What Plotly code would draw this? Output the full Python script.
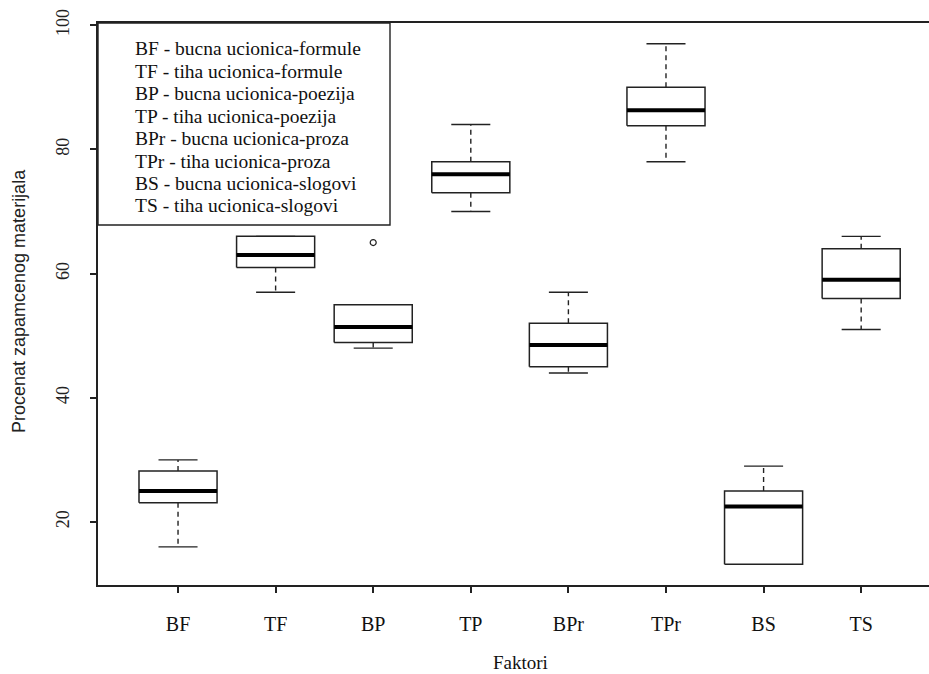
import plotly.graph_objects as go

categories = ["BF", "TF", "BP", "TP", "BPr", "TPr", "BS", "TS"]
lower_whisker = [16, 57, 48, 70, 44, 78, 13.2, 51]
q1 = [23.1, 61, 48.9, 73, 45, 83.8, 13.2, 56]
median = [25, 63, 51.4, 76, 48.5, 86.3, 22.5, 59]
q3 = [28.2, 66, 55, 78, 52, 90, 25, 64]
upper_whisker = [30, 66, 55, 84, 57, 97, 29, 66]
outlier_cat = ["BP"]
outlier_val = [65]

legend_lines = [
    "BF - bucna ucionica-formule",
    "TF - tiha ucionica-formule",
    "BP - bucna ucionica-poezija",
    "TP - tiha ucionica-poezija",
    "BPr - bucna ucionica-proza",
    "TPr - tiha ucionica-proza",
    "BS - bucna ucionica-slogovi",
    "TS - tiha ucionica-slogovi",
]
y_ticks = [20, 40, 60, 80, 100]

SERIF = "Liberation Serif, Times New Roman, serif"
SANS = "Liberation Sans, Arial, sans-serif"
LC = "#222222"
HALF = 0.4
CAP = 0.2

pos = {c: i + 1 for i, c in enumerate(categories)}

bx, by, mx, my, wx, wy, cx, cy = [], [], [], [], [], [], [], []
for i, c in enumerate(categories):
    p = pos[c]
    bx += [p - HALF, p + HALF, p + HALF, p - HALF, p - HALF, None]
    by += [q1[i], q1[i], q3[i], q3[i], q1[i], None]
    mx += [p - HALF, p + HALF, None]
    my += [median[i], median[i], None]
    wx += [p, p, None, p, p, None]
    wy += [q3[i], upper_whisker[i], None, q1[i], lower_whisker[i], None]
    cx += [p - CAP, p + CAP, None, p - CAP, p + CAP, None]
    cy += [upper_whisker[i], upper_whisker[i], None, lower_whisker[i], lower_whisker[i], None]

fig = go.Figure()
fig.add_trace(go.Scatter(x=wx, y=wy, mode="lines", line=dict(color=LC, width=1.4, dash="5px,4px"),
                         hoverinfo="skip", showlegend=False))
fig.add_trace(go.Scatter(x=cx, y=cy, mode="lines", line=dict(color=LC, width=1.4),
                         hoverinfo="skip", showlegend=False))
fig.add_trace(go.Scatter(x=bx, y=by, mode="lines", line=dict(color=LC, width=1.5),
                         fill="toself", fillcolor="white", hoverinfo="skip", showlegend=False))
fig.add_trace(go.Scatter(x=mx, y=my, mode="lines", line=dict(color="black", width=4),
                         hoverinfo="skip", showlegend=False))
fig.add_trace(go.Scatter(x=[pos[c] for c in outlier_cat], y=outlier_val, mode="markers",
                         marker=dict(symbol="circle-open", size=6, color=LC, line=dict(width=1.2)),
                         hoverinfo="skip", showlegend=False))

W, H = 929, 674
ML, MR, MT, MB = 98, 0, 23, 89
pw, ph = W - ML - MR, H - MT - MB

def px_x(x):
    return (x - ML) / pw

def px_y(y):
    return (H - MB - y) / ph

# legend box
fig.add_shape(type="rect", xref="paper", yref="paper",
              x0=px_x(98), x1=px_x(390), y0=px_y(225), y1=px_y(23),
              line=dict(color=LC, width=1.4), fillcolor="white", layer="above")
for k, t in enumerate(legend_lines):
    fig.add_annotation(xref="paper", yref="paper", x=px_x(133), y=px_y(49 + 22.4 * k),
                       text=t, showarrow=False, xanchor="left", yanchor="middle",
                       font=dict(family=SERIF, size=19.5, color="#111"))

fig.add_annotation(xref="paper", yref="paper", x=px_x(520), y=px_y(663), text="Faktori",
                   showarrow=False, xanchor="center", yanchor="middle",
                   font=dict(family=SERIF, size=19, color="#111"))
fig.add_annotation(xref="paper", yref="paper", x=px_x(19), y=px_y(301),
                   text="Procenat zapamcenog materijala", textangle=-90,
                   showarrow=False, xanchor="center", yanchor="middle",
                   font=dict(family=SANS, size=18, color="#222"))

fig.update_layout(
    width=W, height=H,
    margin=dict(l=ML, r=MR, t=MT, b=MB, pad=0),
    paper_bgcolor="white", plot_bgcolor="white",
    showlegend=False,
    xaxis=dict(range=[0.18, 8.695], tickvals=[pos[c] for c in categories], ticktext=categories,
               showgrid=False, zeroline=False, showline=True, mirror=True, linecolor=LC, linewidth=1.5,
               ticks="outside", ticklen=6, tickwidth=1.6, tickcolor=LC, ticklabelstandoff=14,
               tickfont=dict(family=SERIF, size=20, color="#111")),
    yaxis=dict(range=[9.86, 100.35], tickvals=y_ticks, showgrid=False, zeroline=False,
               showline=True, linecolor=LC, linewidth=1.5,
               ticks="outside", ticklen=6, tickwidth=1.6, tickcolor=LC, tickangle=-90,
               ticklabelstandoff=14,
               tickfont=dict(family=SERIF, size=18, color="#222")),
)

fig.write_html("out.html")
